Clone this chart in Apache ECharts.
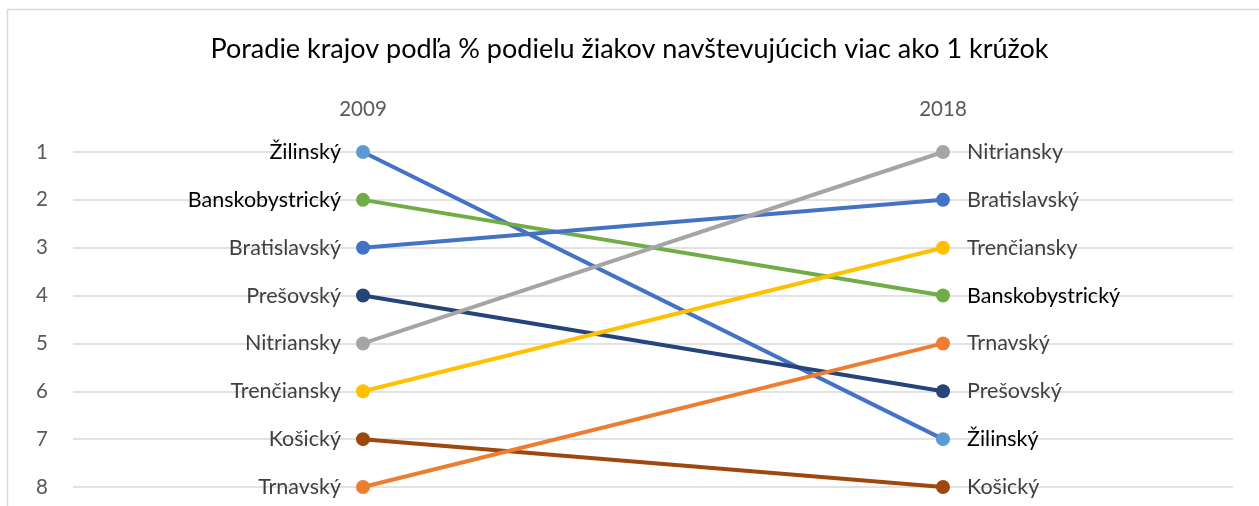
<!DOCTYPE html>
<html><head><meta charset="utf-8">
<script src="https://cdn.jsdelivr.net/npm/echarts@6/dist/echarts.min.js"></script>
<style>html,body{margin:0;padding:0;background:#fff}#c{width:1259px;height:506px}</style>
</head><body><div id="c"></div>
<script>
const years = ['2009', '2018'];
const regions = ['Žilinský','Banskobystrický','Bratislavský','Prešovský','Nitriansky','Trenčiansky','Košický','Trnavský'];
const rank2009 = [1, 2, 3, 4, 5, 6, 7, 8];
const rank2018 = [7, 4, 2, 6, 1, 3, 8, 5];
const lineColors = ['#4472C4','#70AD47','#4472C4','#264478','#A5A5A5','#FFC000','#9E480E','#ED7D31'];
const markerColors = ['#5B9BD5','#70AD47','#4472C4','#264478','#A5A5A5','#FFC000','#9E480E','#ED7D31'];
const labelColors = ['#000000','#000000','#404040','#404040','#404040','#404040','#404040','#404040'];
const yTicks = [1,2,3,4,5,6,7,8];
const FONT = 'Lato';

const series = regions.map((name, i) => ({
  name: name,
  type: 'line',
  symbol: 'circle',
  symbolSize: 14,
  lineStyle: { color: lineColors[i], width: 4 },
  itemStyle: { color: markerColors[i] },
  label: {
    show: true,
    formatter: name,
    fontFamily: FONT,
    fontSize: 21.5,
    color: labelColors[i]
  },
  emphasis: { disabled: true },
  data: [
    { value: rank2009[i], label: { position: 'left', distance: 15 } },
    { value: rank2018[i], label: { position: 'right', distance: 17 } }
  ]
}));

const chart = echarts.init(document.getElementById('c'));
chart.setOption({
  animation: false,
  title: {
    text: 'Poradie krajov podľa % podielu žiakov navštevujúcich viac ako 1 krúžok',
    left: 'center', top: 31,
    textStyle: { fontFamily: FONT, fontSize: 27, fontWeight: 'normal', color: '#000' }
  },
  graphic: [{
    type: 'rect', shape: { x: 7.5, y: 9.5, width: 1400, height: 700 },
    style: { fill: 'none', stroke: '#D9D9D9', lineWidth: 1.5 }, silent: true
  }],
  grid: { left: 73, right: 26, top: 152, bottom: 19 },
  xAxis: {
    type: 'category', data: years, position: 'top', boundaryGap: true,
    axisLine: { show: false }, axisTick: { show: false },
    axisLabel: { fontFamily: FONT, fontSize: 20.5, color: '#595959', margin: 32 }
  },
  yAxis: {
    type: 'value', inverse: true, min: 1, max: 8, interval: 1,
    axisLine: { show: false }, axisTick: { show: false },
    axisLabel: { fontFamily: FONT, fontSize: 20.5, color: '#595959', margin: 25,
      formatter: v => yTicks.includes(v) ? String(v) : '' },
    splitLine: { lineStyle: { color: '#D9D9D9', width: 1.5 } }
  },
  series: series
});
</script></body></html>
